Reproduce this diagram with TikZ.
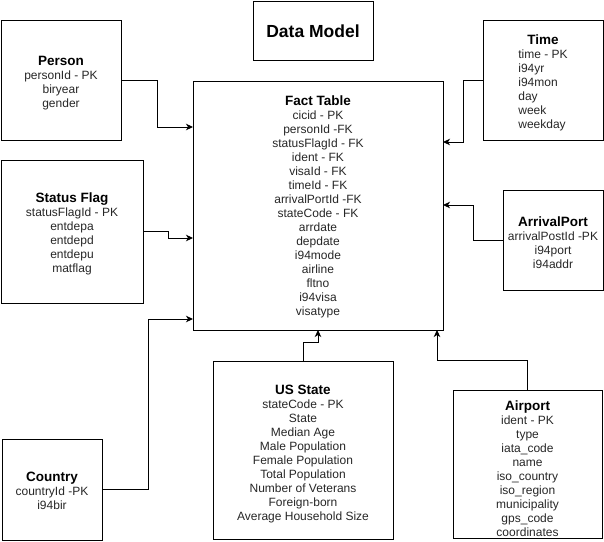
\documentclass[tikz,border=0pt]{standalone}
\usepackage{fontspec}
\setmainfont{Liberation Sans}
\usetikzlibrary{arrows.meta}
\newcommand\ttl[1]{{\fontsize{13.5}{14}\selectfont\bfseries\color{black}#1}}
\begin{document}
\begin{tikzpicture}[x=1pt,y=-1pt,
 box/.style={draw=black,line width=1pt,inner sep=0pt},
 txt/.style={align=center,inner sep=0pt,font=\fontsize{12}{14}\selectfont,text=black!85},
 arr/.style={draw=black,line width=1pt,-{Stealth[length=7pt,width=6.5pt,inset=2pt]}},
]
\useasboundingbox (0,0) rectangle (604,541);

\node[box,minimum width=120pt,minimum height=59pt] (title) at (313,30.5) {};
\node[txt] (titleT) at ([yshift=-0.5pt]title.center)
  {{\fontsize{17.5}{20}\selectfont\bfseries\color{black}Data Model}};

\node[box,minimum width=120pt,minimum height=120pt] (person) at (61,80) {};
\node[txt] (personT) at ([yshift=-3pt]person.center)
  {\ttl{Person}\\personId - PK\\biryear\\gender};

\node[box,minimum width=250pt,minimum height=249pt] (fact) at (318,205.5) {};
\node[txt] (factT) at ([yshift=-1.8pt]fact.center)
  {\ttl{Fact Table}\\cicid - PK\\personId -FK\\statusFlagId - FK\\ident - FK\\visaId - FK\\timeId - FK\\arrivalPortId -FK\\stateCode - FK\\arrdate\\depdate\\i94mode\\airline\\fltno\\i94visa\\visatype};

\node[box,minimum width=120pt,minimum height=120pt] (time) at (543,80) {};
\node[txt] (timeT) at ([yshift=-3.5pt]time.center)
  {\begin{tabular}{@{}l@{}}\multicolumn{1}{@{}c@{}}{\ttl{Time}}\\time - PK\\i94yr\\i94mon\\day\\week\\weekday\end{tabular}};

\node[box,minimum width=142pt,minimum height=143pt] (status) at (72,231.5) {};
\node[txt] (statusT) at ([yshift=-2.5pt]status.center)
  {\ttl{Status Flag}\\statusFlagId - PK\\entdepa\\entdepd\\entdepu\\matflag};

\node[box,minimum width=100pt,minimum height=100pt] (arrival) at (553,240) {};
\node[txt] (arrivalT) at ([yshift=-3pt]arrival.center)
  {\ttl{ArrivalPort}\\arrivalPostId -PK\\i94port\\i94addr};

\node[box,minimum width=100pt,minimum height=101pt] (country) at (52,489.5) {};
\node[txt] (countryT) at ([yshift=-1.5pt]country.center)
  {\ttl{Country}\\countryId -PK\\i94bir};

\node[box,minimum width=180pt,minimum height=178pt] (usstate) at (303,450) {};
\node[txt] (usstateT) at ([yshift=-4pt]usstate.center)
  {\ttl{US State}\\stateCode - PK\\State\\Median Age\\Male Population\\Female Population\\Total Population\\Number of Veterans\\Foreign-born\\Average Household Size};

\node[box,minimum width=149pt,minimum height=148pt] (airport) at (527.5,464) {};
\node[txt] (airportT) at ([yshift=-4.5pt]airport.center)
  {\ttl{Airport}\\ident - PK\\type\\iata\_code\\name\\iso\_country\\iso\_region\\municipality\\gps\_code\\coordinates};

% end points on the fact table
\coordinate (fPerson) at (193,127);
\coordinate (fStatus) at (193,238);
\coordinate (fCountry) at (193,319);
\coordinate (fTime) at (443,142);
\coordinate (fArrival) at (443,205);
\coordinate (fState) at (318,330);
\coordinate (fAirport) at (437,330);

\draw[arr] (person.east) -| (157,127) -- (fPerson);
\draw[arr] (status.east) -| (168,238) -- (fStatus);
\draw[arr] (country.east) -| (148,319) -- (fCountry);
\draw[arr] (time.west) -| (463,142) -- (fTime);
\draw[arr] (arrival.west) -| (473,205) -- (fArrival);
\draw[arr] (usstate.north) |- (318,342) -- (fState);
\draw[arr] (airport.north) |- (437,360) -- (fAirport);
\end{tikzpicture}
\end{document}
